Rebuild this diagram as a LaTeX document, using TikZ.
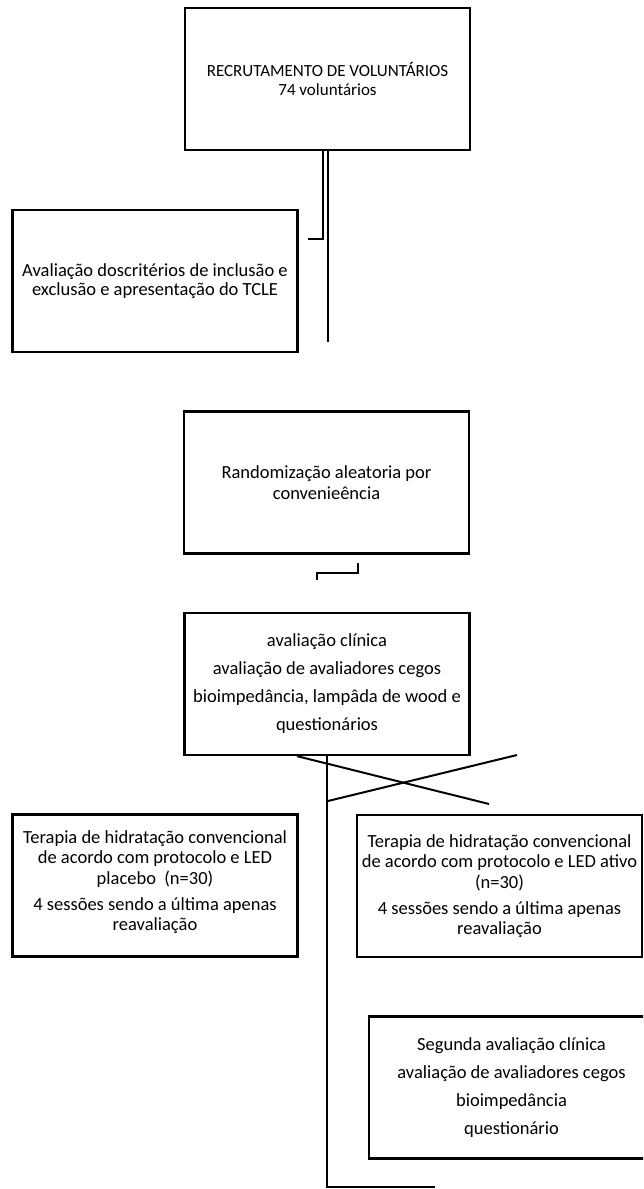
\documentclass[tikz,border=0pt]{standalone}
\usepackage{fontspec}
\setmainfont{Carlito}
\usepackage{tikz}

\begin{document}
\begin{tikzpicture}[x=1pt, y=-1pt,
  stage/.style={draw, line width=2.2pt, minimum width=285pt, minimum height=142pt,
    inner xsep=1pt, inner ysep=2pt, align=center, font=\fontsize{18.5}{20.5}\selectfont},
  link/.style={line width=2pt}]

  % page frame
  \useasboundingbox (0,0) rectangle (643,1189);
  \clip (0,0) rectangle (643,1189);

  % boxes
  \node[stage, font=\fontsize{17}{18.5}\selectfont] (recrut) at (327.5,79) {RECRUTAMENTO DE VOLUNTÁRIOS\\74 voluntários};
  \node[stage, font=\fontsize{18.5}{18.5}\selectfont] (criterios) at (155,281) {Avaliação doscritérios de inclusão e\\exclusão e apresentação do TCLE};
  \node[stage] (random) at (326.5,482.5) {Randomização aleatoria por\\convenieência};
  \node[stage] (avalclin) at (327,684) {avaliação clínica\\[7.5pt]avaliação de avaliadores cegos\\[7.5pt]bioimpedância, lampâda de wood e\\[7.5pt]questionários};
  \node[stage, text depth=10pt] (placebo) at (155,885.5) {Terapia de hidratação convencional\\de acordo com protocolo e LED\\placebo~~(n=30)\\[5.5pt]4 sessões sendo a última apenas\\reavaliação};
  \node[stage] (ativo) at (499.5,886) {Terapia de hidratação convencional\\de acordo com protocolo e LED ativo\\(n=30)\\[5.5pt]4 sessões sendo a última apenas\\reavaliação};
  \node[stage] (segunda) at (511.5,1087.5) {Segunda avaliação clínica\\[7.5pt]avaliação de avaliadores cegos\\[7.5pt]bioimpedância\\[7.5pt]questionário};

  % double line under the first box
  \coordinate (tick1) at (308,239);
  \coordinate (end1) at (327.5,342);
  \draw[link] ([xshift=-4.5pt]recrut.south) |- (tick1);
  \draw[link] (recrut.south) -- (end1);

  % small step under randomization
  \coordinate (rnd1) at (358,563);
  \coordinate (rnd2) at (317,580);
  \draw[link] (rnd1) -- ++(0,10) -| (rnd2);

  % crossing lines
  \coordinate (crossA) at (489,804);
  \coordinate (crossB1) at (517,755);
  \coordinate (crossB2) at (328,801);
  \draw[link] ([xshift=-30pt]avalclin.south) -- (crossA);
  \draw[link] (crossB1) -- (crossB2);

  % long line to the bottom
  \coordinate (fim) at (435,1187);
  \draw[link] (avalclin.south) |- (fim);

\end{tikzpicture}
\end{document}
